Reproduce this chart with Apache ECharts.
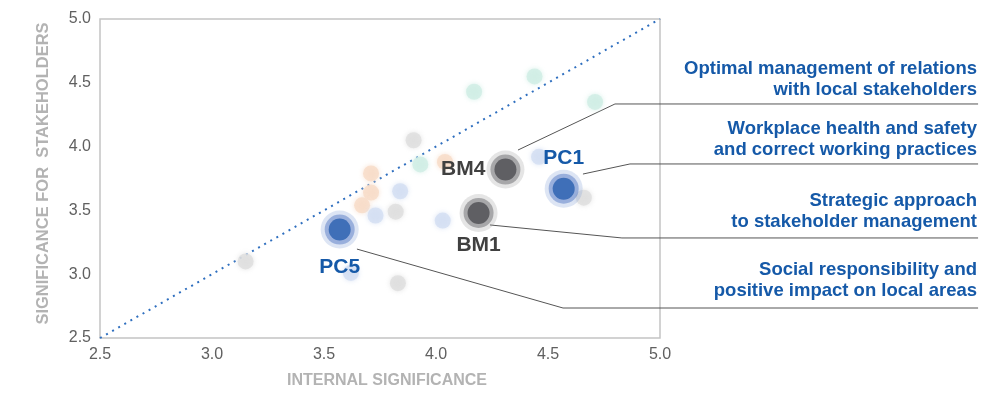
<!DOCTYPE html>
<html>
<head>
<meta charset="utf-8">
<script src="https://cdn.jsdelivr.net/npm/echarts@6/dist/echarts.min.js"></script>
<style>
  html, body { margin: 0; padding: 0; background: #fff; }
  #chart { width: 988px; height: 394px; }
</style>
</head>
<body>
<div id="chart"></div>
<script>
// axis ticks
const axisMin = 2.5;
const axisMax = 5.0;
const axisStep = 0.5;

// faded background topics [internal, stakeholders]
const fadedTeal = [[4.17, 4.43], [4.44, 4.55], [4.71, 4.35], [3.93, 3.86]];
const fadedGray = [[3.90, 4.05], [3.15, 3.10], [3.82, 3.49], [3.83, 2.93], [4.66, 3.60]];
const fadedOrange = [[3.71, 3.79], [3.71, 3.64], [3.67, 3.54], [4.04, 3.88]];
const fadedBlue = [[3.84, 3.65], [3.73, 3.46], [4.03, 3.42], [4.46, 3.92], [3.62, 3.01]];

// highlighted topics
const bmNames = ['BM4', 'BM1'];
const bmValues = [[4.31, 3.82], [4.19, 3.48]];
const pcNames = ['PC1', 'PC5'];
const pcValues = [[4.57, 3.67], [3.57, 3.35]];

// leader lines (data coords, running out to the right-hand captions)
const leaders = [
  [[4.366, 3.973], [4.799, 4.334], [6.42, 4.334]],
  [[4.656, 3.785], [4.866, 3.864], [6.42, 3.864]],
  [[4.241, 3.386], [4.830, 3.284], [6.42, 3.284]],
  [[3.647, 3.197], [4.567, 2.735], [6.42, 2.735]]
];

const captions = [
  ['Optimal management of relations', 'with local stakeholders'],
  ['Workplace health and safety', 'and correct working practices'],
  ['Strategic approach', 'to stakeholder management'],
  ['Social responsibility and', 'positive impact on local areas']
];
const captionTops = [59, 119, 191, 260];

const chart = echarts.init(document.getElementById('chart'));

function faded(data, color) {
  return {
    type: 'scatter',
    data: data,
    symbolSize: 16,
    silent: true,
    itemStyle: { color: color, shadowBlur: 5, shadowColor: color }
  };
}

function bubble(names, values, core, ring, halo, labelColor, positions, distances) {
  const pts = values.map((v, i) => ({ name: names[i], value: v }));
  return [
    { type: 'scatter', data: pts, symbolSize: 38, silent: true, z: 3, itemStyle: { color: halo, opacity: 1 } },
    { type: 'scatter', data: pts, symbolSize: 30, silent: true, z: 4, itemStyle: { color: ring, opacity: 1 } },
    {
      type: 'scatter', data: pts.map((p, i) => ({
        name: p.name, value: p.value,
        label: { position: positions[i], distance: distances[i] }
      })),
      symbolSize: 22, silent: true, z: 5,
      itemStyle: { color: core, opacity: 1 },
      label: {
        show: true, formatter: '{b}', color: labelColor,
        fontSize: 21, fontWeight: 'bold', fontFamily: 'Liberation Sans'
      }
    }
  ];
}

const series = [
  {
    type: 'line',
    data: [[axisMin, axisMin], [axisMax, axisMax]],
    symbol: 'none', silent: true, z: 1,
    lineStyle: { color: '#2f6fbf', width: 2, type: [2, 5] }
  },
  faded(fadedTeal, '#cfeee5'),
  faded(fadedGray, '#dedede'),
  faded(fadedOrange, '#f8dcc8'),
  faded(fadedBlue, '#d3def2')
];

series.push(...bubble(bmNames, bmValues, '#5f5f63', 'rgba(105,105,110,0.5)', 'rgba(150,150,150,0.25)', '#404040', ['left', 'bottom'], [9, 11]));
series.push(...bubble(pcNames, pcValues, '#3f6fb8', 'rgba(70,110,190,0.45)', 'rgba(120,150,210,0.25)', '#1559a8', ['top', 'bottom'], [9, 16]));

const graphic = [];
captions.forEach((c, i) => {
  c.forEach((line, j) => {
    graphic.push({
      type: 'text', right: 11, top: captionTops[i] + j * 21,
      style: {
        text: line, fill: '#1559a8',
        font: 'bold 18.5px "Liberation Sans"'
      }
    });
  });
});

chart.setOption({
  animation: false,
  grid: {
    left: 100, top: 19, width: 560, height: 319,
    show: true, borderColor: '#c4c4c4', borderWidth: 1.5
  },
  xAxis: {
    type: 'value', min: axisMin, max: axisMax, interval: axisStep,
    name: 'INTERNAL SIGNIFICANCE', nameLocation: 'middle', nameGap: 35,
    nameTextStyle: { color: '#b3b3b3', fontSize: 16, fontWeight: 'bold', fontFamily: 'Liberation Sans', padding: [0, 0, 0, 14] },
    axisLine: { show: false }, axisTick: { show: false }, splitLine: { show: false },
    axisLabel: { color: '#606060', fontSize: 16, margin: 9, formatter: v => v.toFixed(1), fontFamily: 'Liberation Sans' }
  },
  yAxis: {
    type: 'value', min: axisMin, max: axisMax, interval: axisStep,
    name: 'SIGNIFICANCE FOR  STAKEHOLDERS', nameLocation: 'middle', nameGap: 48,
    nameTextStyle: { color: '#b3b3b3', fontSize: 16.5, fontWeight: 'bold', fontFamily: 'Liberation Sans', padding: [0, 0, 0, 10] },
    axisLine: { show: false }, axisTick: { show: false }, splitLine: { show: false },
    axisLabel: { color: '#606060', fontSize: 16, margin: 9, formatter: v => v.toFixed(1), fontFamily: 'Liberation Sans' }
  },
  graphic: graphic,
  series: series
});

// leader lines drawn through the grid's own scale, free to run past the plot edge
const leaderGraphics = leaders.map(l => ({
  type: 'polyline', silent: true, z: 2,
  shape: { points: l.map(p => chart.convertToPixel({ gridIndex: 0 }, p)) },
  style: { stroke: '#555', lineWidth: 1, fill: null }
}));
chart.setOption({ graphic: graphic.concat(leaderGraphics) });
</script>
</body>
</html>
